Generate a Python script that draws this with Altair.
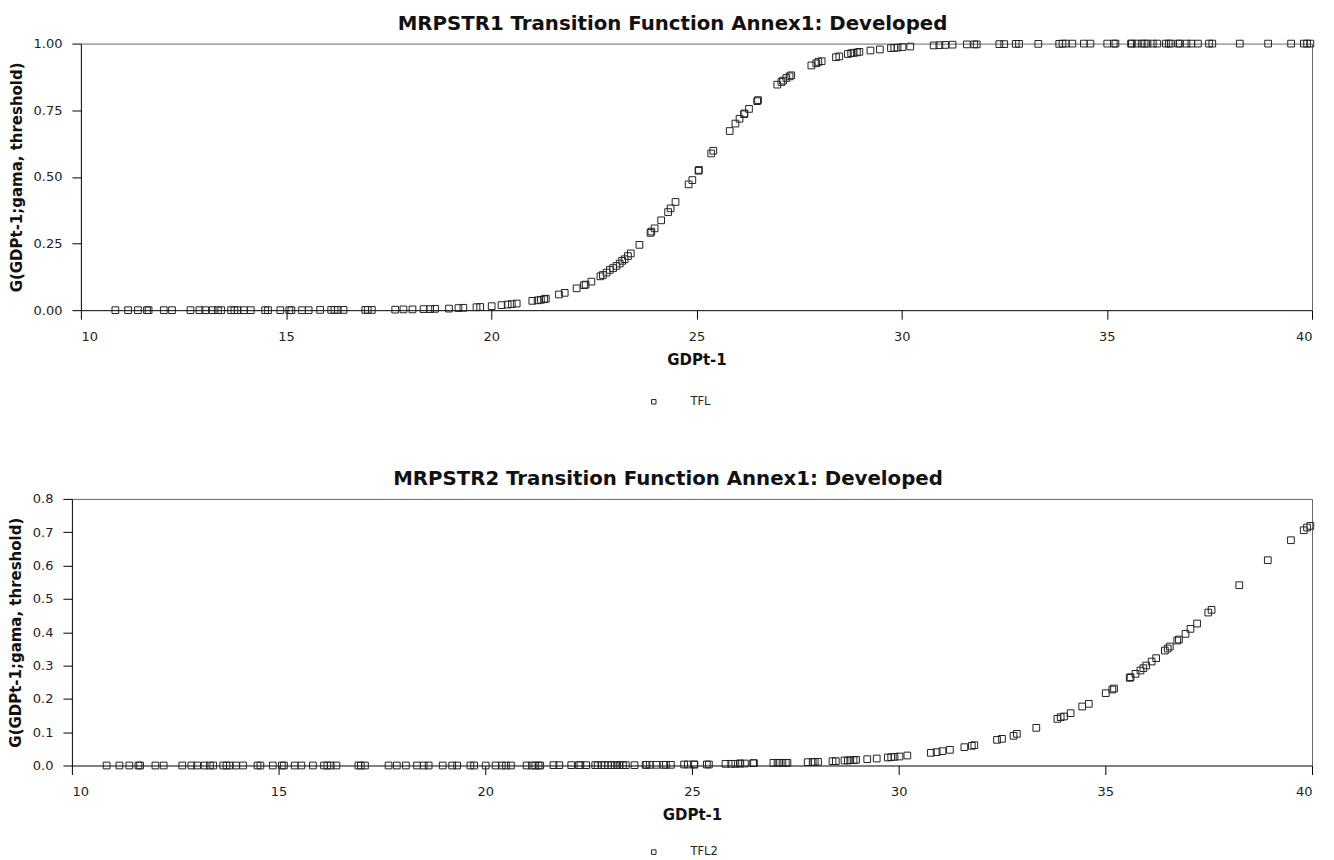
import altair as alt
import pandas as pd

# Shared x values (GDPt-1)
gdp = [10.84, 11.15, 11.39, 11.61, 11.65, 12.02, 12.22, 12.67, 12.89, 13.03,
       13.21, 13.34, 13.42, 13.66, 13.74, 13.82, 13.97, 14.14, 14.49, 14.56,
       14.86, 15.08, 15.13, 15.39, 15.55, 15.83, 16.10, 16.18, 16.26, 16.40,
       16.93, 16.99, 17.09, 17.66, 17.86, 18.08, 18.35, 18.51, 18.63, 18.97,
       19.20, 19.32, 19.64, 19.73, 20.01, 20.25, 20.40, 20.50, 20.62, 21.00,
       21.13, 21.21, 21.29, 21.33, 21.65, 21.79, 22.08, 22.26, 22.30, 22.44,
       22.66, 22.72, 22.81, 22.89, 22.97, 23.05, 23.13, 23.19, 23.25, 23.33,
       23.40, 23.61, 23.88, 23.90, 23.98, 24.14, 24.31, 24.37, 24.49, 24.81,
       24.90, 25.05, 25.06, 25.36, 25.41, 25.81, 25.95, 26.05, 26.16, 26.17,
       26.28, 26.48, 26.50, 26.97, 27.07, 27.11, 27.19, 27.27, 27.31, 27.80,
       27.92, 27.97, 28.05, 28.40, 28.48, 28.69, 28.77, 28.83, 28.91, 28.97,
       29.24, 29.47, 29.74, 29.82, 29.90, 30.02, 30.21, 30.78, 30.92, 31.06,
       31.24, 31.59, 31.77, 31.83, 32.38, 32.50, 32.78, 32.86, 33.33, 33.84,
       33.92, 34.00, 34.16, 34.44, 34.60, 35.01, 35.17, 35.21, 35.59, 35.61,
       35.73, 35.85, 35.92, 35.99, 36.12, 36.23, 36.44, 36.51, 36.56, 36.74,
       36.78, 36.94, 37.06, 37.22, 37.49, 37.57, 38.24, 38.93, 39.49, 39.80,
       39.88, 39.96]

# Top panel (TFL) transition values
tfl = [0.000, 0.000, 0.000, 0.000, 0.000, 0.000, 0.000, 0.000, 0.000, 0.000,
       0.000, 0.000, 0.000, 0.000, 0.000, 0.000, 0.000, 0.000, 0.000, 0.000,
       0.000, 0.000, 0.000, 0.000, 0.000, 0.001, 0.001, 0.001, 0.001, 0.001,
       0.001, 0.001, 0.001, 0.002, 0.003, 0.003, 0.004, 0.004, 0.005, 0.006,
       0.008, 0.009, 0.011, 0.012, 0.015, 0.019, 0.021, 0.023, 0.025, 0.035,
       0.037, 0.039, 0.041, 0.043, 0.059, 0.065, 0.082, 0.094, 0.096, 0.107,
       0.127, 0.132, 0.141, 0.151, 0.158, 0.166, 0.175, 0.185, 0.191, 0.203,
       0.213, 0.245, 0.290, 0.295, 0.307, 0.337, 0.368, 0.382, 0.406, 0.472,
       0.488, 0.523, 0.526, 0.588, 0.598, 0.672, 0.700, 0.718, 0.735, 0.738,
       0.755, 0.784, 0.788, 0.846, 0.856, 0.861, 0.871, 0.877, 0.881, 0.918,
       0.926, 0.931, 0.934, 0.949, 0.952, 0.961, 0.964, 0.965, 0.967, 0.969,
       0.974, 0.978, 0.983, 0.984, 0.985, 0.987, 0.989, 0.993, 0.994, 0.995,
       0.996, 0.997, 0.997, 0.997, 0.998, 0.998, 0.999, 0.999, 0.999, 0.999,
       1.000, 1.000, 1.000, 1.000, 1.000, 1.000, 1.000, 1.000, 1.000, 1.000,
       1.000, 1.000, 1.000, 1.000, 1.000, 1.000, 1.000, 1.000, 1.000, 1.000,
       1.000, 1.000, 1.000, 1.000, 1.000, 1.000, 1.000, 1.000, 1.000, 1.000,
       1.000, 1.000]

# Bottom panel (TFL2) transition values
tfl2 = [0.000, 0.000, 0.000, 0.000, 0.000, 0.000, 0.000, 0.000, 0.000, 0.000,
        0.000, 0.000, 0.000, 0.000, 0.000, 0.000, 0.000, 0.000, 0.000, 0.000,
        0.000, 0.000, 0.000, 0.000, 0.000, 0.000, 0.000, 0.000, 0.000, 0.000,
        0.000, 0.000, 0.000, 0.000, 0.000, 0.000, 0.000, 0.000, 0.000, 0.000,
        0.000, 0.000, 0.000, 0.000, 0.000, 0.000, 0.000, 0.000, 0.000, 0.000,
        0.000, 0.000, 0.000, 0.000, 0.001, 0.001, 0.001, 0.001, 0.001, 0.001,
        0.001, 0.001, 0.001, 0.001, 0.001, 0.001, 0.001, 0.001, 0.001, 0.001,
        0.001, 0.001, 0.002, 0.002, 0.002, 0.002, 0.002, 0.002, 0.002, 0.003,
        0.003, 0.003, 0.003, 0.003, 0.003, 0.005, 0.005, 0.005, 0.006, 0.006,
        0.006, 0.007, 0.007, 0.008, 0.008, 0.008, 0.008, 0.008, 0.008, 0.010,
        0.010, 0.011, 0.011, 0.013, 0.013, 0.015, 0.015, 0.016, 0.016, 0.017,
        0.019, 0.021, 0.024, 0.025, 0.026, 0.027, 0.030, 0.038, 0.040, 0.043,
        0.047, 0.055, 0.059, 0.061, 0.077, 0.080, 0.089, 0.095, 0.113, 0.140,
        0.145, 0.147, 0.157, 0.177, 0.185, 0.217, 0.228, 0.231, 0.263, 0.265,
        0.275, 0.285, 0.292, 0.300, 0.312, 0.322, 0.345, 0.351, 0.357, 0.375,
        0.378, 0.395, 0.410, 0.426, 0.459, 0.467, 0.541, 0.616, 0.676, 0.706,
        0.714, 0.719]

x_ticks = [10, 15, 20, 25, 30, 35, 40]
y_ticks_top = [0.0, 0.25, 0.5, 0.75, 1.0]
y_ticks_bottom = [0.0, 0.1, 0.2, 0.3, 0.4, 0.5, 0.6, 0.7, 0.8]

titles = ["MRPSTR1 Transition Function Annex1: Developed",
          "MRPSTR2 Transition Function Annex1: Developed"]
series_names = ["TFL", "TFL2"]
x_title = "GDPt-1"
y_title = "G(GDPt-1;gama, threshold)"

FONT = "DejaVu Sans"
INK = "#222222"
FRAME = "#666666"
W = 1233
H = 267


def panel(yvals, name, title, yticks, yfmt, ydomain, shift, legend_x, legend_y):
    df = pd.DataFrame({"GDP": gdp, "G": yvals, "series": name})
    xscale = alt.Scale(domain=[10, 40], nice=False, zero=False, range=[-shift, W])
    yscale = alt.Scale(domain=ydomain, nice=False, zero=True)
    base = alt.Chart(df)
    pts = base.mark_point(
        shape="square", filled=False, size=45, strokeWidth=1, color=INK, opacity=1
    ).encode(
        x=alt.X("GDP:Q", title=x_title, scale=xscale,
                axis=alt.Axis(values=x_ticks, format="d", grid=False,
                              tickSize=9, labelPadding=11, titlePadding=9,
                              domainColor="#000000", tickColor="#000000",
                              labelFont=FONT, labelFontSize=13, labelColor=INK,
                              titleFont=FONT, titleFontSize=15, titleFontWeight="bold",
                              titleColor="#111111")),
        y=alt.Y("G:Q", title=y_title, scale=yscale,
                axis=alt.Axis(values=yticks, format=yfmt, grid=False, offset=shift,
                              tickSize=9, labelPadding=10, titlePadding=9,
                              domainColor="#000000", tickColor="#000000",
                              labelFont=FONT, labelFontSize=13, labelColor=INK,
                              titleFont=FONT, titleFontSize=15, titleFontWeight="bold",
                              titleColor="#111111")),
        shape=alt.Shape("series:N", scale=alt.Scale(domain=[name], range=["square"]),
                        legend=alt.Legend(title=None, orient="none",
                                          legendX=legend_x, legendY=legend_y, padding=0,
                                          symbolType="square", symbolSize=20,
                                          symbolStrokeColor=INK, symbolFillColor="white",
                                          symbolStrokeWidth=1, labelOffset=31,
                                          labelFont=FONT, labelFontSize=11.5,
                                          labelColor=INK)),
    )
    # invisible layer that carries the top and right frame lines
    frame = base.mark_point(opacity=0).encode(
        x=alt.X("GDP:Q", scale=xscale,
                axis=alt.Axis(orient="top", labels=False, ticks=False, grid=False,
                              title=None, domainColor=FRAME, domainWidth=1)),
        y=alt.Y("G:Q", scale=yscale,
                axis=alt.Axis(orient="right", labels=False, ticks=False, grid=False,
                              title=None, domainColor=FRAME, domainWidth=1)),
    )
    return alt.layer(pts, frame, title=alt.Title(
        title, font=FONT, fontSize=19.8, fontWeight="bold", color="#111111",
        anchor="middle", offset=4, dx=-24 - shift / 2)).resolve_axis(
        x="independent", y="independent").properties(width=W, height=H)


top = panel(tfl, series_names[0], titles[0], y_ticks_top, ".2f", [0, 1], 0, 568, 353)
bottom = panel(tfl2, series_names[1], titles[1], y_ticks_bottom, ".1f", [0, 0.8], 9, 568, 348)

chart = alt.concat(top, bottom, columns=1, spacing=61).resolve_scale(
    shape="independent"
).resolve_legend(shape="independent").properties(
    padding={"left": 0, "top": 5, "right": 5, "bottom": 0},
    background="white",
).configure_view(strokeOpacity=0)

chart.save("out.html", embed_options={"renderer": "svg", "actions": False})
